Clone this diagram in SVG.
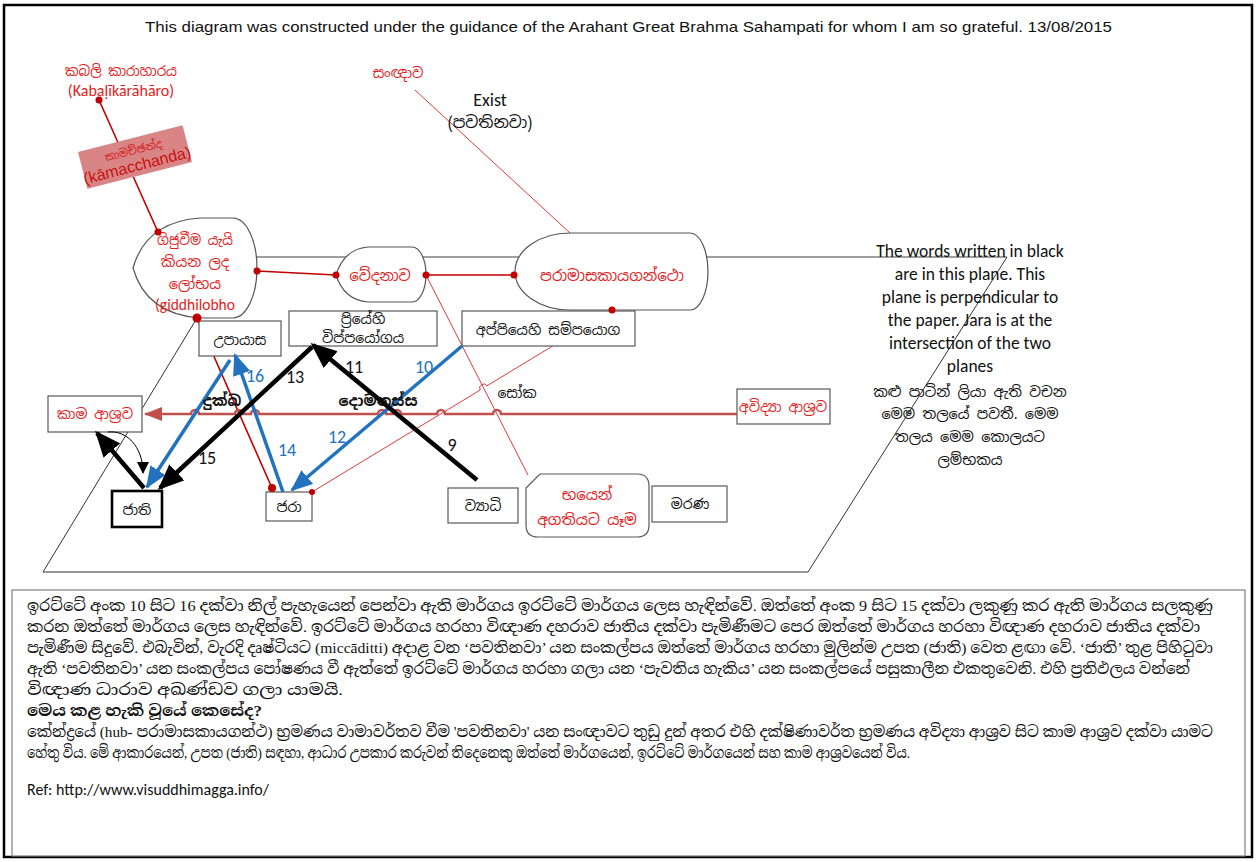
<svg xmlns="http://www.w3.org/2000/svg" width="1257" height="862" viewBox="0 0 1257 862">
  <style>
    .si { font-family: "Noto Sans Sinhala", "Noto Serif Sinhala", "Iskoola Pota", "Lohit Sinhala", "Noto Sans", sans-serif; }
    .cal { font-family: Carlito, Lato, "Liberation Sans", sans-serif; }
    .red { fill: #e41c1c; }
    .blk { fill: #111; }
    .blu { fill: #2272bf; }
    .node { fill: #fff; stroke: #555; stroke-width: 1.2; }
    .box { fill: #fff; stroke: #595959; stroke-width: 1.2; }
    .plane { fill: none; stroke: #333; stroke-width: 1; }
    .thinred { fill: none; stroke: #e23a3a; stroke-width: 1; }
    .darkred { fill: none; stroke: #c00000; stroke-width: 1.6; }
    .dot { fill: #c00000; }
    .arB { fill: none; stroke: #000; stroke-width: 4.5; }
    .arL { fill: none; stroke: #2272bf; stroke-width: 3.5; }
    .para { font-family: "Liberation Serif", "Noto Serif Sinhala", "Noto Sans Sinhala", "Iskoola Pota", serif; font-size: 15.5px; fill: #111; }
  </style>
  <defs>
    <marker id="headBlack" markerUnits="userSpaceOnUse" markerWidth="26" markerHeight="22" refX="23" refY="11" orient="auto">
      <path d="M0,0 L26,11 L0,22 Z" fill="#000"/>
    </marker>
    <marker id="headBlue" markerUnits="userSpaceOnUse" markerWidth="22" markerHeight="18" refX="20" refY="9" orient="auto">
      <path d="M0,0 L22,9 L0,18 Z" fill="#2272bf"/>
    </marker>
    <marker id="headRed" markerUnits="userSpaceOnUse" markerWidth="18" markerHeight="14" refX="17" refY="7" orient="auto">
      <path d="M0,0 L18,7 L0,14 Z" fill="#c0504d"/>
    </marker>
    <marker id="headSmall" markerUnits="userSpaceOnUse" markerWidth="12" markerHeight="12" refX="11" refY="6" orient="auto">
      <path d="M0,0 L12,6 L0,12 Z" fill="#000"/>
    </marker>
  </defs>

  <!-- page frame -->
  <rect x="4" y="5" width="1248" height="852" fill="#fff" stroke="#000" stroke-width="2.5"/>

  <text x="145" y="32" class="blk" font-family="'Liberation Sans', Arial, sans-serif" font-size="15" textLength="967" lengthAdjust="spacingAndGlyphs">This diagram was constructed under the guidance of the Arahant Great Brahma Sahampati for whom I am so grateful. 13/08/2015</text>

  <!-- planes -->
  <g id="planes">
    <line x1="236" y1="257" x2="1007" y2="257" stroke="#7f7f7f" stroke-width="1.6"/>
    <polyline class="plane" points="197,318 43,572 808,572 1007,257"/>
  </g>

  <!-- thin connectors -->
  <g id="connectors-thin">
    <line class="darkred" x1="99" y1="100" x2="158" y2="232"/>
    <line class="thinred" x1="415" y1="90" x2="570" y2="233"/>
    <line class="darkred" x1="257" y1="271" x2="336" y2="275"/>
    <line class="darkred" x1="426" y1="275" x2="514" y2="275"/>
    <line class="thinred" x1="426" y1="275" x2="528" y2="475"/>
    <path class="thinred" d="M612,310 L487,385.8 A4,4 0 0 0 480.2,390 L312,492"/>
    <line class="darkred" x1="197" y1="318" x2="272" y2="488"/>
  </g>

  <!-- sense-contact labels -->
  <g id="kabali">
    <text x="121" y="76" text-anchor="middle" class="si red" font-size="14" textLength="112" lengthAdjust="spacingAndGlyphs">කබලි කාරාහාරය</text>
    <text x="121" y="96" text-anchor="middle" class="cal red" font-size="16">(Kabaḷīkārāhāro)</text>
  </g>
  <g id="kamacchanda" transform="translate(135,157) rotate(-14.4)">
    <rect x="-54" y="-19" width="108" height="38" fill="#d98585"/>
    <text x="0" y="-3" text-anchor="middle" class="si" fill="#d42020" font-size="11">කාමච්ඡන්ද</text>
    <text x="0" y="14" text-anchor="middle" font-family="'Liberation Sans', sans-serif" fill="#c81010" font-size="16">(kāmacchanda)</text>
  </g>
  <g id="sangnava">
    <text x="398" y="78" text-anchor="middle" class="si red" font-size="14">සංඥාව</text>
  </g>
  <g id="exist">
    <text x="490" y="106" text-anchor="middle" class="cal blk" font-size="18">Exist</text>
    <text x="490" y="128" text-anchor="middle" class="si blk" font-size="16">(පවතිනවා)</text>
  </g>

  <!-- nodes on the upper plane -->
  <g id="giddhi">
    <path class="node" d="M133,268 Q146,222 200,218 L233,218 A24,50 0 0 1 233,318 L200,318 Q146,314 133,268 Z"/>
    <text x="195" y="245" text-anchor="middle" class="si red" font-size="14.5" textLength="76" lengthAdjust="spacingAndGlyphs">ගිජුවීම යැයි</text>
    <text x="195" y="267" text-anchor="middle" class="si red" font-size="14.5">කියන ලද</text>
    <text x="195" y="289" text-anchor="middle" class="si red" font-size="14.5">ලෝභය</text>
    <text x="195" y="310" text-anchor="middle" class="cal red" font-size="15.5">(giddhilobho</text>
  </g>
  <g id="vedana">
    <path class="node" d="M336,275 Q344,249 368,247 L412,247 A14,27.5 0 0 1 412,302 L368,302 Q344,300 336,275 Z"/>
    <text x="380" y="281" text-anchor="middle" class="si red" font-size="15">වේදනාව</text>
  </g>
  <g id="paramasa">
    <path class="node" d="M570,233 L690,233 A18,38.5 0 0 1 690,310 L570,310 A55,38.5 0 0 1 570,233 Z"/>
    <text x="612" y="281" text-anchor="middle" class="si red" font-size="15">පරාමාසකායගන්ථො</text>
  </g>

  <!-- boxes on the lower plane -->
  <g id="upayasa">
    <rect class="box" x="199" y="321" width="82" height="35"/>
    <text x="240" y="345" text-anchor="middle" class="si blk" font-size="14">උපායාස</text>
  </g>
  <g id="priyehi">
    <rect class="box" x="289" y="311" width="148" height="35"/>
    <text x="363" y="324" text-anchor="middle" class="si blk" font-size="14">ප්&#8205;රියේහි</text>
    <text x="363" y="343" text-anchor="middle" class="si blk" font-size="14">විප්පයෝගය</text>
  </g>
  <g id="appiyehi">
    <rect class="box" x="462" y="311" width="173" height="35"/>
    <text x="548" y="335" text-anchor="middle" class="si blk" font-size="14">අප්පියෙහි සම්පයොග</text>
  </g>
  <g id="kama-asava">
    <rect class="box" x="48" y="396" width="94" height="36"/>
    <text x="95" y="419" text-anchor="middle" class="si red" font-size="14">කාම ආශ්&#8205;රව</text>
  </g>
  <g id="avidya-asava">
    <rect class="box" x="737" y="389" width="93" height="35"/>
    <text x="783" y="412" text-anchor="middle" class="si red" font-size="14">අවිද්&#8205;යා ආශ්&#8205;රව</text>
  </g>
  <g id="jati">
    <rect x="112" y="491" width="50" height="36" fill="#fff" stroke="#000" stroke-width="2.6"/>
    <text x="137" y="515" text-anchor="middle" class="si blk" font-size="14">ජාති</text>
  </g>
  <g id="jara">
    <rect class="box" x="266" y="492" width="46" height="29"/>
    <text x="289" y="512" text-anchor="middle" class="si blk" font-size="14">ජරා</text>
  </g>
  <g id="vyadhi">
    <rect class="box" x="448" y="488" width="70" height="35"/>
    <text x="483" y="511" text-anchor="middle" class="si blk" font-size="14">ව්&#8205;යාධි</text>
  </g>
  <g id="bhayen">
    <path class="box" d="M526,488 L540,474 L637,474 Q649,474 649,486 L649,525 Q649,537 637,537 L538,537 Q526,537 526,525 Z"/>
    <text x="587" y="500" text-anchor="middle" class="si red" font-size="15">භයෙන්</text>
    <text x="587" y="525" text-anchor="middle" class="si red" font-size="15">අගතියට යෑම</text>
  </g>
  <g id="marana">
    <rect class="box" x="652" y="486" width="75" height="36"/>
    <text x="690" y="509" text-anchor="middle" class="si blk" font-size="14">මරණ</text>
  </g>

  <!-- junction dots -->
  <g id="dots">
    <circle class="dot" cx="99" cy="100" r="3.5"/>
    <circle class="dot" cx="158" cy="232" r="3.5"/>
    <circle class="dot" cx="257" cy="271" r="3.5"/>
    <circle class="dot" cx="197" cy="318" r="4.5"/>
    <circle class="dot" cx="336" cy="275" r="3.5"/>
    <circle class="dot" cx="426" cy="275" r="3.5"/>
    <circle class="dot" cx="514" cy="275" r="3.5"/>
    <circle class="dot" cx="612" cy="310" r="3.5"/>
    <circle class="dot" cx="272" cy="488" r="4"/>
    <circle class="dot" cx="312" cy="492" r="3"/>
  </g>

  <!-- paths -->
  <g id="connectors">
    <path d="M737,414 H501 a4,4 0 0 0 -8,0 H445 a4,4 0 0 0 -8,0 H401 a4,4 0 0 0 -8,0 H386 a4,4 0 0 0 -8,0 H259 a4,4 0 0 0 -8,0 H243 a4,4 0 0 0 -8,0 H199 a4,4 0 0 0 -8,0 H145" fill="none" stroke="#c0504d" stroke-width="2.6" marker-end="url(#headRed)"/>
    <line class="arL" x1="462" y1="346" x2="292" y2="490" marker-end="url(#headBlue)"/>
    <line class="arL" x1="283" y1="492" x2="235" y2="355" marker-end="url(#headBlue)"/>
    <line class="arL" x1="230" y1="360" x2="147" y2="487" marker-end="url(#headBlue)"/>
    <line class="arB" x1="477" y1="480" x2="313" y2="345" marker-end="url(#headBlack)"/>
    <line class="arB" x1="312" y1="347" x2="160" y2="488" marker-end="url(#headBlack)"/>
    <line class="arB" x1="144" y1="488" x2="97" y2="433" marker-end="url(#headBlack)"/>
    <path d="M108,432 C126,430 143,446 143,473" fill="none" stroke="#000" stroke-width="1" marker-end="url(#headSmall)"/>
  </g>

  <!-- path labels -->
  <g id="labels" font-size="18">
    <text x="255" y="382" text-anchor="middle" class="cal blu">16</text>
    <text x="287" y="456" text-anchor="middle" class="cal blu">14</text>
    <text x="424" y="373" text-anchor="middle" class="cal blu">10</text>
    <text x="337" y="443" text-anchor="middle" class="cal blu">12</text>
    <text x="295" y="383" text-anchor="middle" class="cal blk">13</text>
    <text x="354" y="373" text-anchor="middle" class="cal blk">11</text>
    <text x="452" y="451" text-anchor="middle" class="cal blk">9</text>
    <text x="207" y="464" text-anchor="middle" class="cal blk">15</text>
    <text x="222" y="406" text-anchor="middle" class="si blk" font-size="15" font-weight="bold">දුක්ඛ</text>
    <text x="378" y="406" text-anchor="middle" class="si blk" font-size="15" font-weight="bold">දොමනස්ස</text>
    <text x="517" y="398" text-anchor="middle" class="si blk" font-size="14">සෝක</text>
  </g>

  <!-- note on the planes -->
  <g id="plane-note" text-anchor="middle" class="blk">
    <text x="970" y="257" class="cal" font-size="17.5">The words written in black</text>
    <text x="970" y="280" class="cal" font-size="17.5">are in this plane. This</text>
    <text x="970" y="303" class="cal" font-size="17.5">plane is perpendicular to</text>
    <text x="970" y="326" class="cal" font-size="17.5">the paper. Jara is at the</text>
    <text x="970" y="349" class="cal" font-size="17.5">intersection of the two</text>
    <text x="970" y="372" class="cal" font-size="17.5">planes</text>
    <text x="970" y="397" class="si" font-size="14.5">කළු පාටින් ලියා ඇති වචන</text>
    <text x="970" y="419" class="si" font-size="14.5">මෙම තලයේ පවතී. මෙම</text>
    <text x="970" y="442" class="si" font-size="14.5">තලය මෙම කොලයට</text>
    <text x="970" y="465" class="si" font-size="14.5">ලම්භකය</text>
  </g>

  <!-- explanation panel -->
  <g id="explanation">
    <rect x="12" y="590" width="1233" height="266" fill="#fff" stroke="#7f7f7f" stroke-width="1.2"/>
    <text x="27" y="611" class="para" textLength="1186" lengthAdjust="spacingAndGlyphs">ඉරට්ටේ අංක 10 සිට 16 දක්වා  නිල් පැහැයෙන් පෙන්වා ඇති මාර්ගය ඉරට්ටේ මාර්ගය ලෙස හැඳින්වේ. ඔත්තේ අංක 9 සිට 15 දක්වා ලකුණු කර ඇති මාර්ගය සලකුණු</text>
    <text x="27" y="632" class="para" textLength="1173" lengthAdjust="spacingAndGlyphs">කරන ඔත්තේ මාර්ගය ලෙස හැඳින්වේ. ඉරට්ටේ මාර්ගය හරහා විඥාණ දහරාව ජාතිය දක්වා පැමිණීමට පෙර ඔත්තේ මාර්ගය හරහා විඥාණ දහරාව ජාතිය දක්වා</text>
    <text x="27" y="653" class="para" textLength="1186" lengthAdjust="spacingAndGlyphs">පැමිණීම සිදුවේ. එබැවින්, වැරදි දෘෂ්ටියට (miccāditti) අදාළ වන ‘පවතිනවා’  යන සංකල්පය ඔත්තේ මාර්ගය හරහා මුලින්ම උපත (ජාති) වෙත ළඟා වේ. ‘ජාති’ තුළ පිහිටුවා</text>
    <text x="27" y="674" class="para" textLength="1163" lengthAdjust="spacingAndGlyphs">ඇති ‘පවතිනවා’ යන සංකල්පය පෝෂණය වී ඇත්තේ ඉරට්ටේ මාර්ගය හරහා ගලා යන ‘පැවතිය හැකිය’  යන සංකල්පයේ පසුකාලීන එකතුවෙනි. එහි ප්&#8205;රතිඵලය වන්නේ</text>
    <text x="27" y="695" class="para" textLength="316" lengthAdjust="spacingAndGlyphs">විඥාණ ධාරාව අඛණ්ඩව ගලා යාමයි.</text>
    <text x="27" y="716" class="para" font-weight="bold" textLength="235" lengthAdjust="spacingAndGlyphs">මෙය කළ හැකි වූයේ කෙසේද?</text>
    <text x="27" y="737" class="para" textLength="1186" lengthAdjust="spacingAndGlyphs">කේන්ද්&#8205;රයේ (hub- පරාමාසකායගන්ථ) භ්&#8205;රමණය වාමාවර්තව වීම 'පවතිනවා'  යන සංඥාවට තුඩු දුන් අතර එහි දක්ෂිණාවර්ත භ්&#8205;රමණය අවිද්&#8205;යා ආශ්&#8205;රව සිට කාම ආශ්&#8205;රව දක්වා යාමට</text>
    <text x="27" y="758" class="para" textLength="883" lengthAdjust="spacingAndGlyphs">හේතු විය. මේ ආකාරයෙන්, උපත (ජාති) සඳහා, ආධාර උපකාර කරුවන් තිදෙනෙකු  ඔත්තේ මාර්ගයෙන්, ඉරට්ටේ මාර්ගයෙන් සහ  කාම ආශ්&#8205;රවයෙන් විය.</text>
    <text x="27" y="795" class="cal blk" font-size="16">Ref: http://www.visuddhimagga.info/</text>
  </g>
</svg>
